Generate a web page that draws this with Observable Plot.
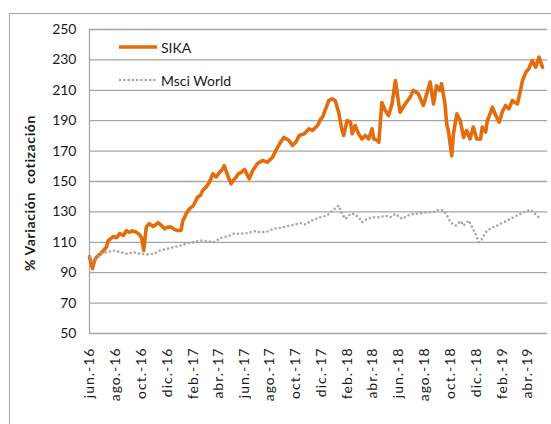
<!DOCTYPE html>
<html><head><meta charset="utf-8">
<script src="https://cdn.jsdelivr.net/npm/d3@7"></script>
<script src="https://cdn.jsdelivr.net/npm/@observablehq/plot@0.6"></script>
<style>
html,body{margin:0;padding:0;background:#fff;}
body{width:551px;height:424px;overflow:hidden;font-family:Lato,"Liberation Sans",sans-serif;}
#wrap{position:relative;width:551px;height:424px;overflow:hidden;}
#frame{position:absolute;left:9px;top:13px;width:600px;height:500px;border-left:1px solid #a6a6a6;border-top:1px solid #a6a6a6;}
#chart{position:absolute;left:0;top:0;}
#ytitle{position:absolute;left:29px;top:193px;transform:translate(-50%,-50%) rotate(-90deg);white-space:pre;font-weight:bold;font-size:14px;letter-spacing:0.6px;color:#1a1a1a;}
.leg{position:absolute;left:118px;font-size:14px;color:#1a1a1a;display:flex;align-items:center;}
.leg svg{margin-right:3px;}
</style>
</head><body>
<div id="wrap">
<div id="frame"></div>
<div id="chart"></div>
<div id="ytitle">% Variación  cotización</div>
<div class="leg" style="top:38px"><svg width="40" height="18"><line x1="1" x2="39" y1="9" y2="9" stroke="#E46C0A" stroke-width="3.6"/></svg><span>SIKA</span></div>
<div class="leg" style="top:71px"><svg width="40" height="18"><line x1="2" x2="38" y1="9" y2="9" stroke="#a6a6a6" stroke-width="2.6" stroke-dasharray="0 4.3" stroke-linecap="round"/></svg><span>Msci World</span></div>
</div>
<script>
const seriesNames = ["SIKA", "Msci World"];
const yTicks = [50, 70, 90, 110, 130, 150, 170, 190, 210, 230, 250];
const xTickDates = ["2016-06-20","2016-08-20","2016-10-20","2016-12-20","2017-02-20","2017-04-20","2017-06-20","2017-08-20","2017-10-20","2017-12-20","2018-02-20","2018-04-20","2018-06-20","2018-08-20","2018-10-20","2018-12-20","2019-02-20","2019-04-20"];
const xTickLabels = ["jun.-16","ago.-16","oct.-16","dic.-16","feb.-17","abr.-17","jun.-17","ago.-17","oct.-17","dic.-17","feb.-18","abr.-18","jun.-18","ago.-18","oct.-18","dic.-18","feb.-19","abr.-19"];
const xDomain = ["2016-06-20", "2019-06-06"];

const sikaDates = ["2016-06-20","2016-06-27","2016-07-02","2016-07-06","2016-07-18","2016-07-30","2016-08-03","2016-08-15","2016-08-23","2016-08-30","2016-09-08","2016-09-15","2016-09-22","2016-09-29","2016-10-09","2016-10-16","2016-10-21","2016-10-26","2016-10-29","2016-11-01","2016-11-08","2016-11-17","2016-11-23","2016-11-29","2016-12-07","2016-12-14","2016-12-21","2016-12-30","2017-01-06","2017-01-14","2017-01-22","2017-01-26","2017-02-03","2017-02-08","2017-02-15","2017-02-20","2017-02-26","2017-03-02","2017-03-09","2017-03-14","2017-03-22","2017-03-30","2017-04-07","2017-04-15","2017-04-23","2017-04-30","2017-05-04","2017-05-12","2017-05-20","2017-05-26","2017-06-01","2017-06-06","2017-06-13","2017-06-21","2017-06-28","2017-07-02","2017-07-10","2017-07-21","2017-08-02","2017-08-14","2017-08-26","2017-09-03","2017-09-14","2017-09-22","2017-10-04","2017-10-12","2017-10-20","2017-10-28","2017-11-09","2017-11-20","2017-11-28","2017-12-10","2017-12-18","2017-12-22","2018-01-06","2018-01-14","2018-01-21","2018-01-29","2018-02-06","2018-02-10","2018-02-18","2018-02-26","2018-03-02","2018-03-09","2018-03-17","2018-03-25","2018-04-02","2018-04-10","2018-04-18","2018-04-22","2018-04-30","2018-05-04","2018-05-11","2018-05-19","2018-05-27","2018-06-04","2018-06-12","2018-06-20","2018-06-23","2018-07-05","2018-07-17","2018-07-24","2018-08-05","2018-08-17","2018-08-25","2018-09-02","2018-09-10","2018-09-17","2018-09-25","2018-09-29","2018-10-07","2018-10-11","2018-10-15","2018-10-23","2018-10-27","2018-11-04","2018-11-12","2018-11-20","2018-11-27","2018-12-05","2018-12-13","2018-12-21","2018-12-30","2019-01-03","2019-01-11","2019-01-15","2019-01-23","2019-01-27","2019-02-04","2019-02-12","2019-02-19","2019-02-27","2019-03-07","2019-03-15","2019-03-27","2019-04-04","2019-04-08","2019-04-16","2019-04-23","2019-05-01","2019-05-09","2019-05-17","2019-05-25"];
const sikaValues = [100.5,92.7,98,100,103,106.8,111,113.8,113,115.8,114.5,117.7,116.6,117.5,116.6,115,113,104.6,112,120,122.3,120.4,121.5,123,121,119,120,120,118.5,117.8,117.8,124,128.7,131,133,134,137.5,139.7,141,144,146.3,149.5,155,153,156,158,160.5,154,148.5,151,152.8,155,156,158,154,151.8,157,161.6,163.8,162.7,166,170.4,175.9,179,177,173.7,175.9,180.3,181.4,184.7,183.6,186.8,191.2,192.3,203.3,204.4,203.3,195.6,183.6,180.3,190,189,181.4,186.8,181.4,178,180.3,178,184.7,178,177,175.9,202,196.7,193.4,201,216.4,201,195.6,201,205.5,210,207.7,200,207.7,215.4,201,213,209.9,214.3,201,188,183.6,167,181.4,194.5,190,179,183.6,178,185.8,178,178,185.8,182.5,190,195.6,198.9,193.4,189,195.6,200,197.8,203.3,201,211,216.4,222,224.2,229.6,225.2,231.8,225.2];

const msciDates = ["2016-06-22","2016-06-27","2016-07-08","2016-07-16","2016-08-01","2016-08-15","2016-09-01","2016-09-17","2016-10-02","2016-10-18","2016-11-03","2016-11-18","2016-12-04","2016-12-20","2017-01-05","2017-01-21","2017-02-06","2017-02-21","2017-03-09","2017-03-25","2017-04-09","2017-04-25","2017-05-11","2017-05-26","2017-06-11","2017-06-27","2017-07-13","2017-07-28","2017-08-13","2017-08-29","2017-09-14","2017-10-07","2017-10-31","2017-11-12","2017-11-23","2017-12-17","2018-01-02","2018-01-14","2018-01-29","2018-02-06","2018-02-14","2018-02-26","2018-03-06","2018-03-17","2018-03-25","2018-04-06","2018-04-22","2018-05-08","2018-05-19","2018-05-31","2018-06-12","2018-06-28","2018-07-10","2018-07-25","2018-08-10","2018-08-26","2018-09-10","2018-09-22","2018-10-04","2018-10-12","2018-10-20","2018-11-01","2018-11-13","2018-11-20","2018-12-02","2018-12-10","2018-12-18","2018-12-26","2019-01-03","2019-01-11","2019-01-22","2019-02-07","2019-02-23","2019-03-10","2019-03-26","2019-04-11","2019-04-27","2019-05-08","2019-05-16","2019-05-24"];
const msciValues = [100.2,97.5,99,102.6,103.5,104.6,103.5,102.4,103.5,102.4,102,102.4,104.6,105.7,106.8,107.9,109.4,110,111.2,110.7,110,112.9,113.8,115.6,115.6,116,117.3,116.6,117,118.9,119.5,121,122.6,121.7,123.9,126.5,127.6,130.9,134.2,128.7,125.4,128.7,128.7,126.5,123.2,125.4,126.5,126.5,127.6,126.5,128.7,125.4,127.6,128.7,129.1,129.8,129.8,131.4,130.9,127.6,123.2,121,123.9,121,124.3,119.9,115.6,110,112.3,116.6,118.9,121,123.2,125.4,127.6,129.8,131.4,128.7,126.5,127.6];

const sika = sikaDates.map((d, i) => ({date: new Date(d), value: sikaValues[i], series: seriesNames[0]}));
const msci = msciDates.map((d, i) => ({date: new Date(d), value: msciValues[i], series: seriesNames[1]}));
const tickDates = xTickDates.map(d => new Date(d));
const labelMap = new Map(tickDates.map((d, i) => [+d, xTickLabels[i]]));
const domain = xDomain.map(d => new Date(d));

const chart = Plot.plot({
  width: 551, height: 424,
  marginLeft: 89, marginRight: 4, marginTop: 29, marginBottom: 91,
  style: {fontFamily: "Lato, 'Liberation Sans', sans-serif", fontSize: "14px", color: "#1a1a1a", background: "transparent", overflow: "visible"},
  x: {type: "utc", domain},
  y: {domain: [50, 250]},
  marks: [
    Plot.gridY(yTicks, {stroke: "#a6a6a6", strokeOpacity: 1, strokeWidth: 1.3}),
    Plot.ruleX([domain[0]], {stroke: "#a6a6a6", strokeWidth: 1.3}),
    Plot.axisY({ticks: yTicks, tickSize: 0, tickPadding: 13, label: null, fill: "#1a1a1a", fontSize: 14}),
    Plot.axisX({ticks: tickDates, tickFormat: d => labelMap.get(+d), tickRotate: -90, tickSize: 0, tickPadding: 14, label: null, fill: "#1a1a1a", fontSize: 14}),
    Plot.line(sika, {x: "date", y: "value", stroke: "#E46C0A", strokeWidth: 3.6, strokeLinejoin: "round", strokeLinecap: "round"}),
    Plot.line(msci, {x: "date", y: "value", stroke: "#a6a6a6", strokeWidth: 2.6, strokeDasharray: "0 4.3", strokeLinecap: "round"})
  ]
});
chart.querySelectorAll('[aria-label="x-axis tick label"] text').forEach(t => t.style.letterSpacing = "1px");
document.getElementById("chart").appendChild(chart);
</script>
</body></html>
